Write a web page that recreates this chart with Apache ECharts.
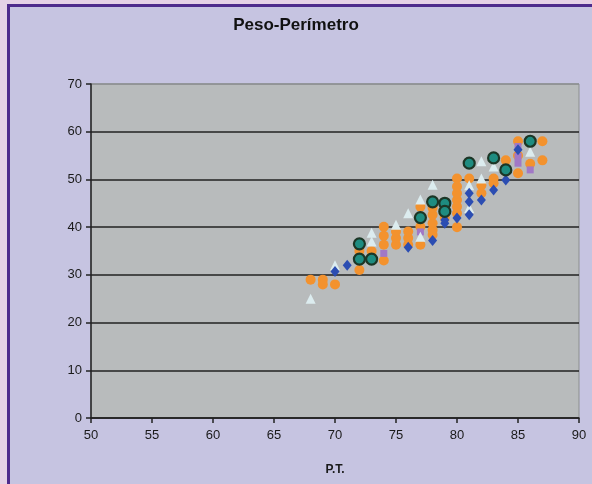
<!DOCTYPE html>
<html>
<head>
<meta charset="utf-8">
<script src="https://cdn.jsdelivr.net/npm/echarts@6/dist/echarts.min.js"></script>
<style>
  html, body { margin: 0; padding: 0; background: #e5d2e6; }
  #frame { position: absolute; left: 7px; top: 4px; width: 592px; height: 490px;
           border-left: 3px solid #4e2b8c; border-top: 3px solid #4e2b8c; background: #c6c4e1; }
  #chart { position: absolute; left: 0; top: 0; width: 592px; height: 484px; }
</style>
</head>
<body>
<div id="frame"></div>
<div id="chart"></div>
<script>
const titleText = 'Peso-Perímetro';
const xName = 'P.T.';
const xTicks = { min: 50, max: 90, interval: 5 };
const yTicks = { min: 0, max: 70, interval: 10 };

const orangeSeries = [
  [68,29],[69,29],[69,28],[70,28],
  [72,35],[72,31],[73,35],
  [74,33],[74,36.3],[74,38.2],[74,40.1],
  [75,36.3],[75,37.7],[75,39.1],
  [76,36.3],[76,37.7],[76,39.1],
  [77,36.3],[77,40.1],[77,44.3],
  [78,38.4],[78,39.4],[78,40.8],[78,42.6],[78,44],
  [79,42],
  [80,40],[80,42.9],[80,44.3],[80,45.7],[80,47.1],[80,48.5],[80,50.2],
  [81,50.2],
  [82,47.1],[82,48.8],
  [83,49.2],[83,50.2],
  [84,54],
  [85,51.3],[85,55],[85,58],
  [86,53.3],
  [87,54],[87,58]
];
const triangleSeries = [
  [68,25],[70,32],[73,37],[73,38.8],[75,40.5],[76,42.9],[77,38],[77,45.8],
  [78,48.9],[81,48.8],[81,44],[82,53.8],[82,50.2],[83,52.7],[86,55.8]
];
const blueSeries = [
  [70,30.7],[71,32],[76,35.8],[78,37.2],[79,40.8],[79,41.5],[80,41.9],[81,42.6],
  [81,45.3],[81,47.1],[82,45.7],[83,47.8],[84,49.9],[85,56.2]
];
const purpleSeries = [
  [74,34.5],[77,39],[85,53.4],[85,54.8],[85,56.9],[86,52]
];
const greenSeries = [
  [72,36.5],[72,33.3],[73,33.3],[77,42],[78,45.3],[79,45],[79,43.3],
  [81,53.4],[83,54.5],[84,52],[86,58]
];

const chart = echarts.init(document.getElementById('chart'), null, { renderer: 'canvas' });
const axisFont = { fontFamily: 'Arial, "Liberation Sans", sans-serif', fontSize: 13, color: '#1a1a1a' };
chart.setOption({
  backgroundColor: 'transparent',
  animation: false,
  title: {
    text: titleText, left: 'center', top: 12,
    textStyle: { fontFamily: 'Arial, "Liberation Sans", sans-serif', fontSize: 17, fontWeight: 'bold', color: '#111' }
  },
  grid: {
    left: 91, right: 13, top: 84, bottom: 66,
    show: true, backgroundColor: '#b8bbbc', borderColor: '#8c8f90', borderWidth: 1
  },
  xAxis: {
    type: 'value', min: xTicks.min, max: xTicks.max, interval: xTicks.interval,
    name: xName, nameLocation: 'middle', nameGap: 46,
    nameTextStyle: Object.assign({}, axisFont, { fontWeight: 'bold', fontSize: 12 }),
    axisLine: { show: true, onZero: false, lineStyle: { color: '#222', width: 1.5 } },
    axisTick: { show: true, length: 5, lineStyle: { color: '#222', width: 1.5 } },
    axisLabel: Object.assign({}, axisFont, { margin: 11 }),
    splitLine: { show: false }
  },
  yAxis: {
    type: 'value', min: yTicks.min, max: yTicks.max, interval: yTicks.interval,
    axisLine: { show: true, onZero: false, lineStyle: { color: '#222', width: 1.5 } },
    axisTick: { show: true, length: 5, lineStyle: { color: '#222', width: 1.5 } },
    axisLabel: Object.assign({}, axisFont, { margin: 9 }),
    splitLine: { show: true, lineStyle: { color: ['#222','#222','#222','#222','#222','#222','#222','#8c8f90'], width: 1.5 } }
  },
  series: [
    { type: 'scatter', name: 'orange', data: orangeSeries, symbol: 'circle', symbolSize: 10,
      itemStyle: { color: '#f3922e', opacity: 1 } },
    { type: 'scatter', name: 'purple', data: purpleSeries, symbol: 'rect', symbolSize: 7,
      itemStyle: { color: '#a178c6', opacity: 1 } },
    { type: 'scatter', name: 'triangle', data: triangleSeries, symbol: 'triangle', symbolSize: 10,
      itemStyle: { color: '#dcecef', opacity: 1 } },
    { type: 'scatter', name: 'blue', data: blueSeries, symbol: 'diamond', symbolSize: [9, 11],
      itemStyle: { color: '#2b4db2', opacity: 1 } },
    { type: 'scatter', name: 'green', data: greenSeries, symbol: 'circle', symbolSize: 11,
      itemStyle: { color: '#1e8c80', borderColor: '#1c3626', borderWidth: 2.2, opacity: 1 } }
  ]
});
</script>
</body>
</html>
